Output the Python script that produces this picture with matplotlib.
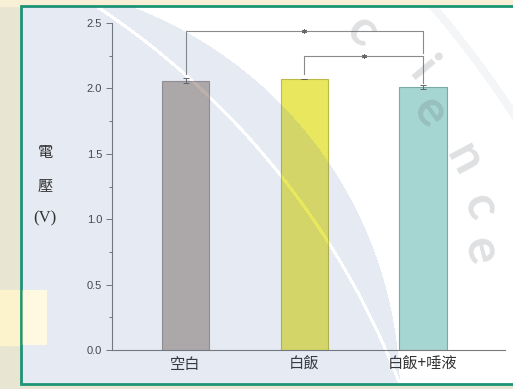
import matplotlib
matplotlib.use("Agg")
import matplotlib.pyplot as plt
import matplotlib.patches as patches
import numpy as np

# Data
categories = ["空白", "白飯", "白飯+唾液"]
voltage = [2.06, 2.07, 2.01]
voltage_err = [0.02, 0.0, 0.015]
bar_colors = ["#bcb2ab", "#e9e75e", "#a6d6d2"]
edge_colors = ["#9a9290", "#bdbb48", "#7aaaa6"]
yticks = [0.0, 0.5, 1.0, 1.5, 2.0, 2.5]
# significance brackets: (left bar, right bar, bracket height, left leg end, right leg end)
brackets = [(0, 2, 2.44, 2.11, 2.27), (1, 2, 2.25, 2.11, 2.04)]

W, H = 513, 389
fig = plt.figure(figsize=(W / 100, H / 100), dpi=100)

# background frame (pixel coordinates)
bg = fig.add_axes([0, 0, 1, 1], zorder=0)
bg.set_xlim(0, W)
bg.set_ylim(H, 0)
bg.axis("off")
bg.add_patch(patches.Rectangle((0, 0), W, H, color="#e9e5d3"))
bg.add_patch(patches.Rectangle((0, 0), W, 6, color="#f7f0d6"))
bg.add_patch(patches.Rectangle((0, 290), 21, 55, color="#fcf2cc"))
bg.add_patch(patches.Rectangle((21, 6), 520, 378, facecolor="white",
                               edgecolor="#1c9574", linewidth=2))

# chart
ax = fig.add_axes([112 / W, 39 / H, 393 / W, 327 / H], zorder=1)
ax.patch.set_alpha(0)

x = list(range(len(categories)))
ax.bar(x, voltage, width=0.4, color=bar_colors, edgecolor=edge_colors,
       linewidth=0.8, zorder=2)
ax.errorbar(x, voltage, yerr=voltage_err, fmt="none", ecolor="#666666",
            elinewidth=0.7, capsize=2.5, capthick=0.7, zorder=3)

for i, j, h, yl, yr in brackets:
    ax.plot([x[i], x[i], x[j], x[j]], [yl, h, h, yr], color="#8a8a8a",
            linewidth=0.8, zorder=3)
    ax.plot((x[i] + x[j]) / 2, h, marker=(6, 2, 0), markersize=3.5,
            color="#666666", markeredgewidth=0.7, zorder=4)

ax.set_xlim(-0.62, 2.69)
ax.set_ylim(0, 2.5)
ax.set_yticks(yticks)
ax.set_yticklabels([f"{v:.1f}" for v in yticks], fontfamily="Liberation Sans",
                   fontsize=8, color="#444444")
ax.set_yticks([0.25, 0.75, 1.25, 1.75, 2.25], minor=True)
ax.set_xticks(x)
ax.set_xticklabels(categories, fontfamily=["Noto Sans CJK TC", "DejaVu Sans"],
                   fontsize=11, color="#333333")
ax.tick_params(axis="x", length=0, pad=4)
ax.tick_params(axis="y", which="major", length=4, width=0.7, color="#777777", pad=3)
ax.tick_params(axis="y", which="minor", length=2.5, width=0.7, color="#777777")
for side in ["top", "right"]:
    ax.spines[side].set_visible(False)
for side in ["left", "bottom"]:
    ax.spines[side].set_color("#7a7a7a")
    ax.spines[side].set_linewidth(0.8)

# stacked vertical y-axis label
fig.text(45 / W, 1 - 153 / H, "電", ha="center", va="center",
         fontfamily="Noto Sans CJK TC", fontsize=11, color="#333333")
fig.text(45 / W, 1 - 186 / H, "壓", ha="center", va="center",
         fontfamily="Noto Sans CJK TC", fontsize=11, color="#333333")
fig.text(45 / W, 1 - 218 / H, "(V)", ha="center", va="center",
         fontfamily="Liberation Serif", fontsize=12, color="#333333")

# translucent watermark laid over the chart
ov = fig.add_axes([0, 0, 1, 1], zorder=2)
ov.set_xlim(0, W)
ov.set_ylim(H, 0)
ov.axis("off")
yy, xx = np.mgrid[0:H, 0:W] + 0.5
inside = (xx > 22) & (yy > 7) & (yy < 383)
rgba = np.zeros((H, W, 4))
d_blue = np.hypot(xx + 15, yy - 395)
d_ring = np.hypot(xx + 343, yy - 670)
blue = inside & (d_blue < 415) & (np.abs(d_ring - 796) > 1.6)
rgba[blue] = [74 / 255, 106 / 255, 168 / 255, 0.14]
faint = inside & (np.abs(d_ring - 1021) < 4)
rgba[faint] = [100 / 255, 115 / 255, 140 / 255, 0.07]
ybox = inside & (xx < 47) & (yy > 290) & (yy < 345)
rgba[ybox] = [1.0, 240 / 255, 170 / 255, 0.35]
ov.imshow(rgba, extent=(0, W, H, 0), interpolation="bilinear")

letters = [("c", 362, 31, -40), ("i", 423, 70, -50), ("e", 430, 112, -55),
           ("n", 464, 160, -62), ("c", 480, 206, -70), ("e", 481, 250, -76)]
for ch, lx, ly, rot in letters:
    ov.text(lx, ly, ch, ha="center", va="center", rotation=rot,
            fontfamily="Lato", fontweight="bold", fontsize=36,
            color="#5a6470", alpha=0.2)
ov.set_xlim(0, W)
ov.set_ylim(H, 0)

fig.savefig("out.png", dpi=100)
